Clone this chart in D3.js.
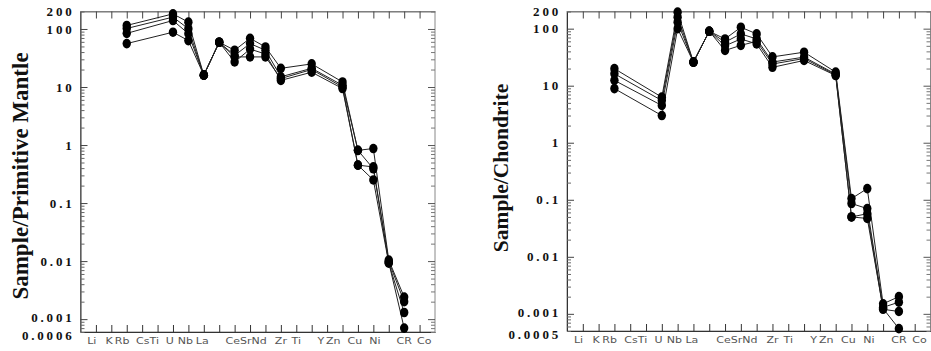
<!DOCTYPE html>
<html>
<head>
<meta charset="utf-8">
<script src="https://cdn.jsdelivr.net/npm/d3@7"></script>
<style>
  body { margin: 0; background: #fff; }
  svg { display: block; }
</style>
</head>
<body>
<svg id="chart" width="931" height="351"></svg>
<script>

//Element slots (tick index on the x axis) where samples were measured
var dataSlots = [3, 6, 7, 8, 9, 10, 11, 12, 13, 15, 17, 18, 19, 20, 21];

//Bottom labels and the slot they are printed at
var elementLabels = ["Li", "K", "Rb", "CsTi", "U", "Nb", "La", "CeSrNd", "Zr", "Ti", "Y", "Zn", "Cu", "Ni", "CR", "Co"];
var labelSlots = [0.73, 1.85, 2.7, 4.35, 5.8, 6.8, 7.9, 10.75, 13.0, 14.0, 15.6, 16.4, 17.8, 19.1, 21.0, 22.3];

//Primitive mantle normalised samples
var pmA = [115, 182, 131, 16, 59, 43, 69, 49, 21, 25, 12.2, 0.81, 0.87, 0.0104, 0.0024];
var pmB = [102, 160, 101, 16, 59, 35, 56, 43, 15, 21, 10.7, 0.81, 0.39, 0.0098, 0.0020];
var pmC = [84, 140, 83, 16, 59, 27, 45, 37, 13, 18, 9.4, 0.45, 0.25, 0.0092, 0.0013];
var pmD = [56, 88, 63, 16, 59, 33, 33, 33, 14, 20, 10, 0.45, 0.42, 0.0095, 0.0007];

//Chondrite normalised samples
var chA = [19.9, 6.3, 195, 25.9, 90, 66, 106, 81, 32, 38.7, 17.3, 0.105, 0.157, 0.0015, 0.0020];
var chB = [16.2, 5.5, 159, 25.9, 90, 58, 81, 66, 26, 31.7, 16, 0.086, 0.07, 0.0013, 0.0016];
var chC = [12.4, 4.5, 130, 25.9, 90, 50, 66, 54, 21, 27.7, 15.1, 0.05, 0.057, 0.0012, 0.0011];
var chD = [8.9, 3.0, 100, 25.9, 90, 41.5, 51, 60, 24, 30, 15.5, 0.05, 0.047, 0.00124, 0.00055];

//Y tick labels
var pmTicks = [200, 100, 10, 1, 0.1, 0.01, 0.001, 0.0006];
var chTicks = [200, 100, 10, 1, 0.1, 0.01, 0.001, 0.0005];

var svg = d3.select("#chart");

var panels = [
    {title: "Sample/Primitive Mantle", series: [pmA, pmB, pmC, pmD], ticks: pmTicks,
     left: 80.5, right: 435, top: 11.5, bottom: 332, titleX: 20, titleY: 176, titleSize: 23},
    {title: "Sample/Chondrite", series: [chA, chB, chC, chD], ticks: chTicks,
     left: 567, right: 930.5, top: 11.5, bottom: 331, titleX: 500, titleY: 168, titleSize: 21.5}
];

panels.forEach(drawPanel);

function drawPanel(p) {

    var g = svg.append("g");

    //Scales
    var x = d3.scaleLinear()
        .domain([0, 23])
        .range([p.left, p.right]);

    var y = d3.scaleLog()
        .domain([p.ticks[p.ticks.length - 1], p.ticks[0]])
        .range([p.bottom, p.top]);

    var majors = p.ticks.slice(1, -1);
    var minors = y.ticks().filter(d => majors.indexOf(d) < 0);
    var lowest = p.ticks[p.ticks.length - 1];

    //Frame
    g.append("rect")
        .attr("x", p.left)
        .attr("y", p.top)
        .attr("width", p.right - p.left)
        .attr("height", p.bottom - p.top)
        .attr("fill", "none")
        .attr("stroke", "#888")
        .attr("stroke-width", 1);

    //Top and bottom ticks
    var slotTicks = d3.range(1, 23);

    g.append("g")
        .attr("transform", "translate(0," + p.bottom + ")")
        .call(d3.axisBottom(x).tickValues(slotTicks).tickSize(-7).tickSizeOuter(0).tickFormat(""))
        .call(a => a.select(".domain").attr("stroke", "#333"))
        .call(a => a.selectAll(".tick line").attr("stroke", "#333"));

    g.append("g")
        .attr("transform", "translate(0," + p.top + ")")
        .call(d3.axisTop(x).tickValues(slotTicks).tickSize(-7).tickSizeOuter(0).tickFormat(""))
        .call(a => a.select(".domain").attr("stroke", "#777"))
        .call(a => a.selectAll(".tick line").attr("stroke", "#444"));

    //Left axis, major with labels and minor ticks
    g.append("g")
        .attr("transform", "translate(" + p.left + ",0)")
        .call(d3.axisLeft(y).tickValues(p.ticks).tickSize(-7).tickSizeOuter(0)
            .tickPadding(6).tickFormat(d => String(d)))
        .call(a => a.select(".domain").attr("stroke", "#333"))
        .call(a => a.selectAll(".tick line").attr("stroke", "#444")
            .attr("x2", d => (d === p.ticks[0] || d === lowest) ? 0 : 7))
        .call(a => a.selectAll(".tick text")
            .attr("dy", d => d === lowest ? "0.55em" : (d === 0.001 ? "0.2em" : "0.32em"))
            .style("font-family", "'Liberation Serif', serif")
            .style("font-weight", "bold")
            .style("font-size", "13px")
            .style("letter-spacing", "2.8px")
            .attr("fill", "#111"));

    g.append("g")
        .attr("transform", "translate(" + p.left + ",0)")
        .call(d3.axisLeft(y).tickValues(minors).tickSize(-4).tickFormat(""))
        .call(a => a.select(".domain").remove())
        .call(a => a.selectAll(".tick line").attr("stroke", "#666"));

    //Right axis ticks
    g.append("g")
        .attr("transform", "translate(" + p.right + ",0)")
        .call(d3.axisRight(y).tickValues(majors).tickSize(-7).tickFormat(""))
        .call(a => a.select(".domain").remove())
        .call(a => a.selectAll(".tick line").attr("stroke", "#555"));

    g.append("g")
        .attr("transform", "translate(" + p.right + ",0)")
        .call(d3.axisRight(y).tickValues(minors).tickSize(-4).tickFormat(""))
        .call(a => a.select(".domain").remove())
        .call(a => a.selectAll(".tick line").attr("stroke", "#777"));

    //Element labels under the axis, slightly stretched like the original print
    g.append("g")
        .selectAll("text")
        .data(elementLabels)
        .enter()
        .append("text")
            .attr("transform", (d, i) => "translate(" + x(labelSlots[i]) + "," + (p.bottom + 12) + ") scale(1.3,1)")
            .attr("text-anchor", "middle")
            .text(d => d)
            .style("font-family", "'DejaVu Sans', sans-serif")
            .style("font-size", "8.5px")
            .style("fill", "#555");

    //Y title
    g.append("text")
        .attr("transform", "translate(" + p.titleX + "," + p.titleY + ") rotate(-90)")
        .attr("text-anchor", "middle")
        .attr("dy", "0.35em")
        .text(p.title)
        .style("font-family", "'Liberation Serif', serif")
        .style("font-weight", "bold")
        .style("font-size", p.titleSize + "px")
        .style("fill", "#111");

    //Sample lines
    var line = d3.line()
        .x((d, i) => x(dataSlots[i]))
        .y(d => y(d));

    g.append("g")
        .selectAll("path")
        .data(p.series)
        .enter()
        .append("path")
            .attr("d", line)
            .attr("fill", "none")
            .attr("stroke", "#222")
            .attr("stroke-width", 1);

    //Sample markers
    p.series.forEach(function(s) {
        g.append("g")
            .selectAll("ellipse")
            .data(s)
            .enter()
            .append("ellipse")
                .attr("cx", (d, i) => x(dataSlots[i]))
                .attr("cy", d => y(d))
                .attr("rx", 4.2)
                .attr("ry", 4.8)
                .attr("fill", "#000");
    });
}

</script>
</body>
</html>
